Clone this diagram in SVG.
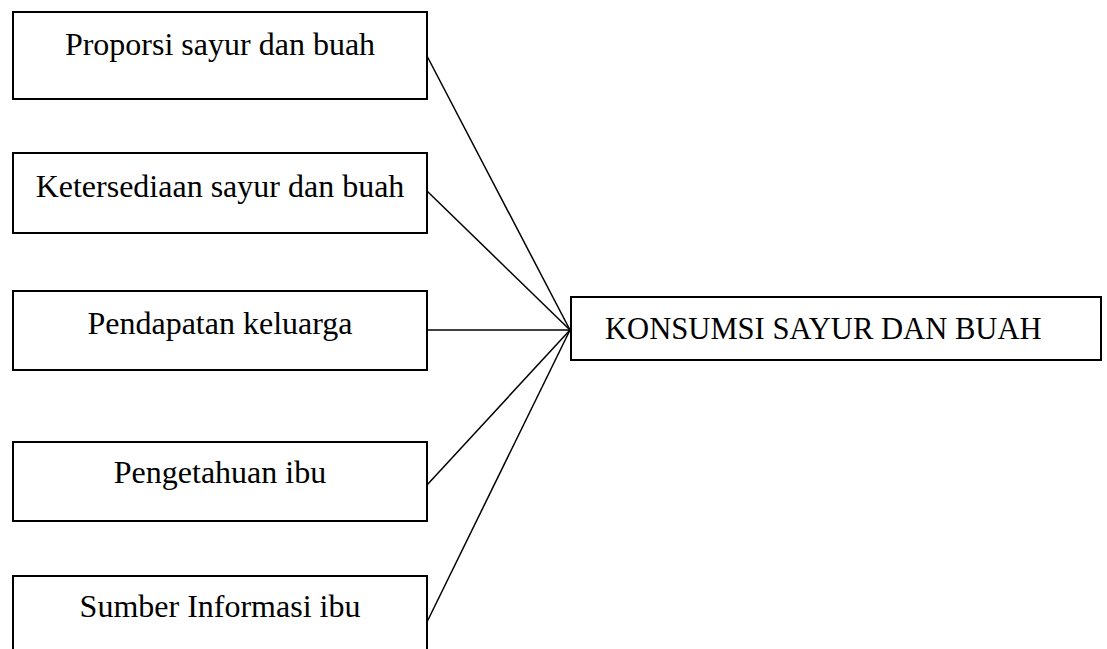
<svg xmlns="http://www.w3.org/2000/svg" width="1107" height="649" viewBox="0 0 1107 649">
<style>
.box{fill:#fff;stroke:#000;stroke-width:2}
.lbl{font-family:"Liberation Serif","Times New Roman",serif;font-size:32px;fill:#000;text-anchor:middle}
.lbl2{font-family:"Liberation Serif","Times New Roman",serif;font-size:30.6px;fill:#000}
.con{stroke:#000;stroke-width:1.5;fill:none}
</style>
<rect width="1107" height="649" fill="#fff"/>
<g id="connectors">
<line class="con" x1="427" y1="56" x2="570" y2="330"/>
<line class="con" x1="427" y1="191" x2="570" y2="330"/>
<line class="con" x1="427" y1="330" x2="570" y2="330"/>
<line class="con" x1="427" y1="485" x2="570" y2="330"/>
<line class="con" x1="427" y1="622" x2="570" y2="330"/>
</g>
<g id="n1"><rect class="box" x="13" y="12" width="414" height="87"/><text class="lbl" x="220" y="55">Proporsi sayur dan buah</text></g>
<g id="n2"><rect class="box" x="13" y="153" width="414" height="80"/><text class="lbl" x="220" y="197">Ketersediaan sayur dan buah</text></g>
<g id="n3"><rect class="box" x="13" y="291" width="414" height="79"/><text class="lbl" x="220" y="334">Pendapatan keluarga</text></g>
<g id="n4"><rect class="box" x="13" y="442" width="414" height="79"/><text class="lbl" x="220" y="483">Pengetahuan ibu</text></g>
<g id="n5"><rect class="box" x="13" y="576" width="414" height="90"/><text class="lbl" x="220" y="617">Sumber Informasi ibu</text></g>
<g id="target"><rect class="box" x="571" y="297" width="530" height="63"/><text class="lbl2" x="605" y="339">KONSUMSI SAYUR DAN BUAH</text></g>
</svg>
